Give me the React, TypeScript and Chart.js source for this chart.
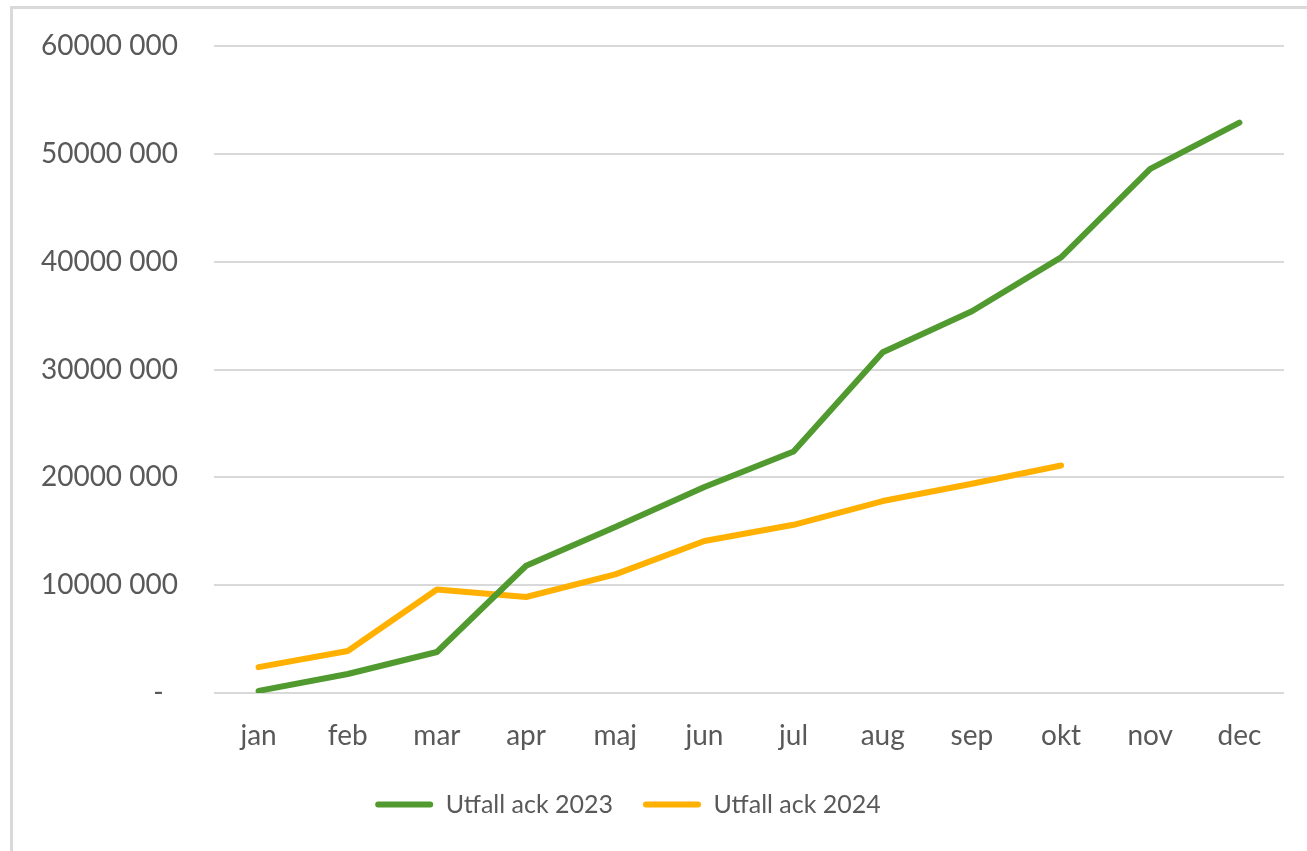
import React, { useEffect, useRef } from "react";
import { Chart, registerables } from "chart.js";

Chart.register(...registerables);

const months = ["jan", "feb", "mar", "apr", "maj", "jun", "jul", "aug", "sep", "okt", "nov", "dec"];
const utfall2023 = [200000, 1760000, 3800000, 11800000, 15400000, 19100000, 22400000, 31600000, 35400000, 40400000, 48600000, 52900000];
const utfall2024 = [2400000, 3900000, 9600000, 8900000, 11000000, 14100000, 15600000, 17800000, 19400000, 21100000];
const seriesNames = ["Utfall ack 2023", "Utfall ack 2024"];
const yTicks = [0, 10000000, 20000000, 30000000, 40000000, 50000000, 60000000];

const GREEN = "#519a2f";
const ORANGE = "#ffb000";
const TEXT = "#595959";
const GRID = "#d9d9d9";

function fmt(v: number): string {
  if (v === 0) return "-  ";
  const thousands = Math.floor(v / 1000);
  const rest = String(v % 1000).padStart(3, "0");
  return thousands + " " + rest;
}

// keep the legend box at a fixed height and shift it left like the Excel original
const legendTweak = {
  id: "legendTweak",
  beforeLayout(chart: any) {
    const lg = chart.legend;
    if (lg && !lg._patched) {
      const orig = lg.fit.bind(lg);
      lg.fit = () => {
        orig();
        lg.height = 75;
      };
      lg._patched = true;
    }
  },
  afterLayout(chart: any) {
    const lg = chart.legend;
    if (lg) {
      lg.left -= 29;
      lg.right -= 29;
    }
  },
};

export default function App() {
  const ref = useRef<HTMLCanvasElement | null>(null);
  useEffect(() => {
    document.body.style.margin = "0";
    const ctx = ref.current!;
    const font = { family: "Lato, 'Open Sans', sans-serif", size: 28 };
    const legendFont = { family: "Lato, 'Open Sans', sans-serif", size: 25 };
    const chart = new Chart(ctx, {
      type: "line",
      plugins: [legendTweak],
      data: {
        labels: months,
        datasets: [
          {
            label: seriesNames[0],
            data: utfall2023,
            borderColor: GREEN,
            backgroundColor: GREEN,
            borderWidth: 6,
            pointRadius: 0,
            borderCapStyle: "round",
            borderJoinStyle: "round",
            tension: 0,
          },
          {
            label: seriesNames[1],
            data: utfall2024,
            borderColor: ORANGE,
            backgroundColor: ORANGE,
            borderWidth: 6,
            pointRadius: 0,
            borderCapStyle: "round",
            borderJoinStyle: "round",
            tension: 0,
          },
        ],
      },
      options: {
        animation: false,
        responsive: false,
        maintainAspectRatio: false,
        layout: { padding: { left: 30, right: 23, top: 46, bottom: 14 } },
        plugins: {
          tooltip: { enabled: false },
          legend: {
            position: "bottom",
            labels: {
              color: TEXT,
              font: legendFont,
              boxWidth: 58,
              boxHeight: 6,
              padding: 30,
              useBorderRadius: true,
              borderRadius: 3,
              generateLabels: (c: any) =>
                c.data.datasets.map((d: any, i: number) => ({
                  text: d.label,
                  fillStyle: d.borderColor,
                  strokeStyle: d.borderColor,
                  lineWidth: 0,
                  hidden: false,
                  datasetIndex: i,
                  fontColor: TEXT,
                  borderRadius: 3,
                })),
            },
          },
        },
        scales: {
          x: {
            offset: true,
            grid: { display: false, drawTicks: false },
            border: { display: false },
            ticks: { color: TEXT, font, padding: 26, maxRotation: 0 },
            afterFit: (s: any) => {
              s.height = 69;
            },
          },
          y: {
            min: 0,
            max: 60000000,
            afterBuildTicks: (s: any) => {
              s.ticks = yTicks.map((v) => ({ value: v }));
            },
            grid: { color: GRID, lineWidth: 2, drawTicks: false },
            border: { display: false },
            ticks: {
              color: TEXT,
              font,
              padding: 36,
              callback: (v: any) => fmt(Number(v)),
            },
            afterFit: (s: any) => {
              s.width = 184;
              s.paddingTop = 10;
              s.paddingBottom = 10;
            },
          },
        },
      },
    });
    return () => chart.destroy();
  }, []);
  return (
    <div style={{ position: "fixed", left: 0, top: 0, width: 1307, height: 851, background: "#fff", overflow: "hidden" }}>
      <div
        style={{
          position: "absolute",
          left: 10,
          top: 6,
          width: 1400,
          height: 1000,
          border: "3px solid #d9d9d9",
          boxSizing: "border-box",
        }}
      />
      <canvas ref={ref} width={1307} height={851} style={{ position: "absolute", left: 0, top: 0 }} />
    </div>
  );
}
